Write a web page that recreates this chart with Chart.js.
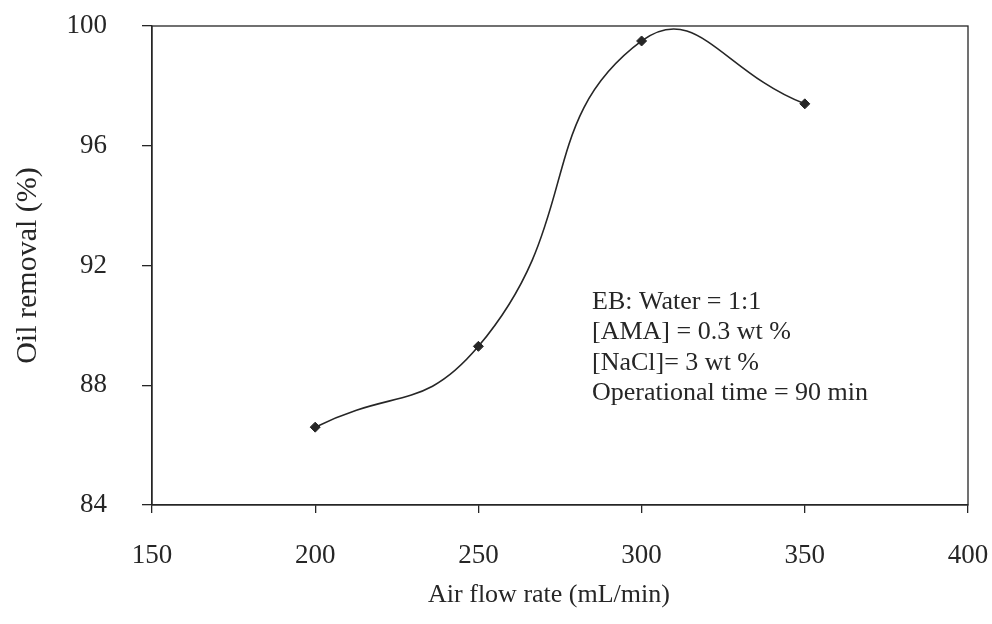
<!DOCTYPE html>
<html>
<head>
<meta charset="utf-8">
<script src="https://cdn.jsdelivr.net/npm/chart.js@4/dist/chart.umd.min.js"></script>
<style>
  html, body { margin: 0; padding: 0; background: #fff; }
  #wrap { width: 992px; height: 624px; }
</style>
</head>
<body>
<div id="wrap"><canvas id="c" width="992" height="624"></canvas></div>
<script>
// Data
const airFlowRate = [200, 250, 300, 350];          // mL/min
const oilRemoval  = [86.6, 89.3, 99.5, 97.4];      // %
const xTicks = [150, 200, 250, 300, 350, 400];
const yTicks = [84, 88, 92, 96, 100];
const noteLines = [
  'EB: Water = 1:1',
  '[AMA] = 0.3 wt %',
  '[NaCl]= 3 wt %',
  'Operational time = 90 min'
];
const xTitle = 'Air flow rate (mL/min)';
const yTitle = 'Oil removal (%)';

const ink = '#262626';
const serif = '"Liberation Serif", "Times New Roman", serif';

const boxPlugin = {
  id: 'box',
  afterDatasetsDraw(chart) {
    const { ctx, chartArea: a } = chart;
    ctx.save();
    ctx.strokeStyle = ink;
    ctx.lineWidth = 1.3;
    ctx.strokeRect(a.left, a.top, a.right - a.left, a.bottom - a.top);
    // annotation text
    ctx.fillStyle = ink;
    ctx.font = '26px ' + serif;
    ctx.textBaseline = 'middle';
    ctx.textAlign = 'left';
    const x0 = a.left + 440;
    const y0 = a.top + 276;
    noteLines.forEach((t, i) => ctx.fillText(t, x0, y0 + i * 30.5));
    // x axis title
    ctx.textAlign = 'center';
    ctx.font = '26px ' + serif;
    ctx.fillText(xTitle, (a.left + a.right) / 2 - 11, a.bottom + 90);
    ctx.restore();
  }
};

function zeroPad(scale) {
  scale.paddingTop = 0; scale.paddingBottom = 0;
  scale.paddingLeft = 0; scale.paddingRight = 0;
}

new Chart(document.getElementById('c'), {
  type: 'scatter',
  data: {
    datasets: [{
      data: airFlowRate.map((x, i) => ({ x: x, y: oilRemoval[i] })),
      showLine: true,
      tension: 0.5,
      capBezierPoints: false,
      borderColor: ink,
      borderWidth: 1.6,
      pointStyle: 'rectRot',
      pointRadius: 5,
      pointBackgroundColor: ink,
      pointBorderColor: ink,
      pointBorderWidth: 1
    }]
  },
  options: {
    responsive: false,
    animation: false,
    elements: { line: { capBezierPoints: false } },
    layout: { padding: { left: 0, right: 24, top: 26, bottom: 0 } },
    plugins: { legend: { display: false }, tooltip: { enabled: false } },
    scales: {
      x: {
        type: 'linear',
        min: 150, max: 400,
        afterBuildTicks(scale) { scale.ticks = xTicks.map(v => ({ value: v })); },
        afterFit(scale) { scale.height = 119; zeroPad(scale); },
        grid: { drawOnChartArea: false, drawTicks: true, tickLength: 8, color: ink, lineWidth: 1.3 },
        border: { display: true, color: ink, width: 1.3 },
        ticks: { color: ink, font: { family: serif, size: 27 }, padding: 27, maxRotation: 0 },
        title: { display: false, text: xTitle }
      },
      y: {
        type: 'linear',
        min: 84, max: 100,
        afterBuildTicks(scale) { scale.ticks = yTicks.map(v => ({ value: v })); },
        afterFit(scale) { scale.width = 152; zeroPad(scale); },
        grid: { drawOnChartArea: false, drawTicks: true, tickLength: 10, color: ink, lineWidth: 1.3 },
        border: { display: true, color: ink, width: 1.3 },
        ticks: { color: ink, font: { family: serif, size: 27 }, padding: 35 },
        title: { display: true, text: yTitle, color: ink, font: { family: serif, size: 30 }, padding: { top: 10, bottom: 0 } }
      }
    }
  },
  plugins: [boxPlugin]
});
</script>
</body>
</html>
